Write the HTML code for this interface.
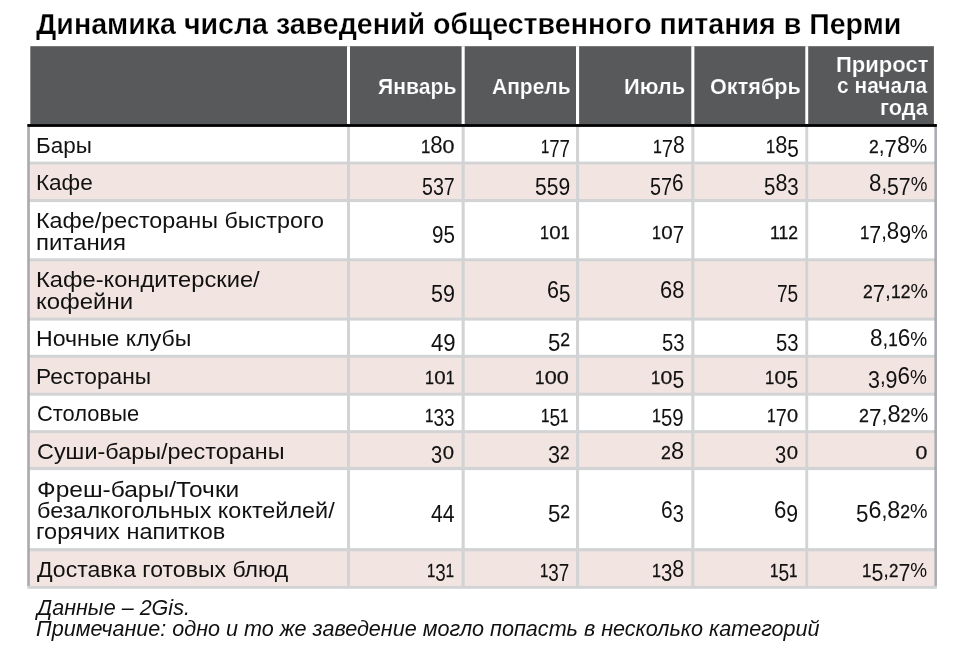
<!DOCTYPE html>
<html lang="ru"><head><meta charset="utf-8"><title>Динамика числа заведений общественного питания в Перми</title>
<style>
html,body{margin:0;padding:0;background:#fff}
body{width:962px;height:652px;position:relative;overflow:hidden;font-family:"Liberation Sans",sans-serif;color:#111}
.grid{position:absolute;left:0;top:0}
.t{position:absolute;display:block;white-space:nowrap;line-height:1;margin:0;transform-origin:0 0}
p{margin:0}
.ttl{font-weight:bold;color:#000;-webkit-text-stroke:.25px #fff}
.hd{font-weight:bold;color:#fff;-webkit-text-stroke:.2px #58595b}
.ft{font-style:italic}
.nm span{line-height:0}
.x{font-size:.83em;-webkit-text-stroke:.3px #111}
.z{font-size:.8em;display:inline-block;transform:scaleX(1.32);margin:0 .1em;-webkit-text-stroke:.25px #111}
.a{font-size:1.1em}
.p{font-size:.93em}
.d{font-size:1.05em;position:relative;top:.18em}

</style></head><body>
<svg class="grid" width="962" height="652" viewBox="0 0 962 652">
<rect x="30.30" y="46.20" width="903.60" height="77.90" fill="#58595b"/>
<rect x="347.00" y="46.20" width="3.00" height="77.90" fill="#ffffff"/>
<rect x="461.60" y="46.20" width="3.10" height="77.90" fill="#ffffff"/>
<rect x="576.00" y="46.20" width="3.10" height="77.90" fill="#ffffff"/>
<rect x="691.30" y="46.20" width="3.10" height="77.90" fill="#ffffff"/>
<rect x="805.30" y="46.20" width="2.90" height="77.90" fill="#ffffff"/>
<rect x="27.30" y="126.90" width="909.60" height="461.90" fill="#d1d3d5"/>
<rect x="27.30" y="126.90" width="2.60" height="459.00" fill="#a9abae"/>
<rect x="934.30" y="126.90" width="2.60" height="459.00" fill="#a9abae"/>
<rect x="29.90" y="126.90" width="317.10" height="34.70" fill="#ffffff"/>
<rect x="350.00" y="126.90" width="111.60" height="34.70" fill="#ffffff"/>
<rect x="464.70" y="126.90" width="111.30" height="34.70" fill="#ffffff"/>
<rect x="579.10" y="126.90" width="112.20" height="34.70" fill="#ffffff"/>
<rect x="694.40" y="126.90" width="110.90" height="34.70" fill="#ffffff"/>
<rect x="808.20" y="126.90" width="126.10" height="34.70" fill="#ffffff"/>
<rect x="29.90" y="164.40" width="317.10" height="34.60" fill="#f2e4e1"/>
<rect x="350.00" y="164.40" width="111.60" height="34.60" fill="#f2e4e1"/>
<rect x="464.70" y="164.40" width="111.30" height="34.60" fill="#f2e4e1"/>
<rect x="579.10" y="164.40" width="112.20" height="34.60" fill="#f2e4e1"/>
<rect x="694.40" y="164.40" width="110.90" height="34.60" fill="#f2e4e1"/>
<rect x="808.20" y="164.40" width="126.10" height="34.60" fill="#f2e4e1"/>
<rect x="29.90" y="202.10" width="317.10" height="56.20" fill="#ffffff"/>
<rect x="350.00" y="202.10" width="111.60" height="56.20" fill="#ffffff"/>
<rect x="464.70" y="202.10" width="111.30" height="56.20" fill="#ffffff"/>
<rect x="579.10" y="202.10" width="112.20" height="56.20" fill="#ffffff"/>
<rect x="694.40" y="202.10" width="110.90" height="56.20" fill="#ffffff"/>
<rect x="808.20" y="202.10" width="126.10" height="56.20" fill="#ffffff"/>
<rect x="29.90" y="261.20" width="317.10" height="56.40" fill="#f2e4e1"/>
<rect x="350.00" y="261.20" width="111.60" height="56.40" fill="#f2e4e1"/>
<rect x="464.70" y="261.20" width="111.30" height="56.40" fill="#f2e4e1"/>
<rect x="579.10" y="261.20" width="112.20" height="56.40" fill="#f2e4e1"/>
<rect x="694.40" y="261.20" width="110.90" height="56.40" fill="#f2e4e1"/>
<rect x="808.20" y="261.20" width="126.10" height="56.40" fill="#f2e4e1"/>
<rect x="29.90" y="320.60" width="317.10" height="34.20" fill="#ffffff"/>
<rect x="350.00" y="320.60" width="111.60" height="34.20" fill="#ffffff"/>
<rect x="464.70" y="320.60" width="111.30" height="34.20" fill="#ffffff"/>
<rect x="579.10" y="320.60" width="112.20" height="34.20" fill="#ffffff"/>
<rect x="694.40" y="320.60" width="110.90" height="34.20" fill="#ffffff"/>
<rect x="808.20" y="320.60" width="126.10" height="34.20" fill="#ffffff"/>
<rect x="29.90" y="357.80" width="317.10" height="34.90" fill="#f2e4e1"/>
<rect x="350.00" y="357.80" width="111.60" height="34.90" fill="#f2e4e1"/>
<rect x="464.70" y="357.80" width="111.30" height="34.90" fill="#f2e4e1"/>
<rect x="579.10" y="357.80" width="112.20" height="34.90" fill="#f2e4e1"/>
<rect x="694.40" y="357.80" width="110.90" height="34.90" fill="#f2e4e1"/>
<rect x="808.20" y="357.80" width="126.10" height="34.90" fill="#f2e4e1"/>
<rect x="29.90" y="395.70" width="317.10" height="34.50" fill="#ffffff"/>
<rect x="350.00" y="395.70" width="111.60" height="34.50" fill="#ffffff"/>
<rect x="464.70" y="395.70" width="111.30" height="34.50" fill="#ffffff"/>
<rect x="579.10" y="395.70" width="112.20" height="34.50" fill="#ffffff"/>
<rect x="694.40" y="395.70" width="110.90" height="34.50" fill="#ffffff"/>
<rect x="808.20" y="395.70" width="126.10" height="34.50" fill="#ffffff"/>
<rect x="29.90" y="433.10" width="317.10" height="33.80" fill="#f2e4e1"/>
<rect x="350.00" y="433.10" width="111.60" height="33.80" fill="#f2e4e1"/>
<rect x="464.70" y="433.10" width="111.30" height="33.80" fill="#f2e4e1"/>
<rect x="579.10" y="433.10" width="112.20" height="33.80" fill="#f2e4e1"/>
<rect x="694.40" y="433.10" width="110.90" height="33.80" fill="#f2e4e1"/>
<rect x="808.20" y="433.10" width="126.10" height="33.80" fill="#f2e4e1"/>
<rect x="29.90" y="470.10" width="317.10" height="78.00" fill="#ffffff"/>
<rect x="350.00" y="470.10" width="111.60" height="78.00" fill="#ffffff"/>
<rect x="464.70" y="470.10" width="111.30" height="78.00" fill="#ffffff"/>
<rect x="579.10" y="470.10" width="112.20" height="78.00" fill="#ffffff"/>
<rect x="694.40" y="470.10" width="110.90" height="78.00" fill="#ffffff"/>
<rect x="808.20" y="470.10" width="126.10" height="78.00" fill="#ffffff"/>
<rect x="29.90" y="551.30" width="317.10" height="34.60" fill="#f2e4e1"/>
<rect x="350.00" y="551.30" width="111.60" height="34.60" fill="#f2e4e1"/>
<rect x="464.70" y="551.30" width="111.30" height="34.60" fill="#f2e4e1"/>
<rect x="579.10" y="551.30" width="112.20" height="34.60" fill="#f2e4e1"/>
<rect x="694.40" y="551.30" width="110.90" height="34.60" fill="#f2e4e1"/>
<rect x="808.20" y="551.30" width="126.10" height="34.60" fill="#f2e4e1"/>
<rect x="27.30" y="124.05" width="909.60" height="2.85" fill="#000000"/>
</svg>
<h1 class="t ttl" style="font-size:28.6px;left:36.20px;top:10.10px;transform:scaleX(0.9991)">Динамика числа заведений общественного питания в Перми</h1>
<div role="table" aria-label="Динамика числа заведений">
<div role="row" class="head">
<div role="columnheader"></div>
<div role="columnheader"><span class="t hd" style="font-size:22.5px;left:378.26px;top:76.00px;transform:scaleX(0.9407)">Январь</span></div>
<div role="columnheader"><span class="t hd" style="font-size:22.5px;left:492.07px;top:76.00px;transform:scaleX(0.9329)">Апрель</span></div>
<div role="columnheader"><span class="t hd" style="font-size:22.5px;left:624.06px;top:76.00px;transform:scaleX(0.9700)">Июль</span></div>
<div role="columnheader"><span class="t hd" style="font-size:22.5px;left:709.54px;top:76.00px;transform:scaleX(0.9620)">Октябрь</span></div>
<div role="columnheader"><span class="t hd" style="font-size:22.5px;left:835.94px;top:53.90px;transform:scaleX(0.9783)">Прирост</span> <span class="t hd" style="font-size:22.5px;left:837.27px;top:75.20px;transform:scaleX(0.9323)">с начала</span> <span class="t hd" style="font-size:22.5px;left:880.26px;top:97.40px;transform:scaleX(0.9681)">года</span></div>
</div>
<div role="row">
<div role="rowheader"><span class="t lb" style="font-size:22.6px;left:35.91px;top:134.60px;transform:scaleX(0.9943)">Бары</span></div>
<div role="cell"><span class="t nm" style="font-size:22px;left:420.68px;top:135.15px;transform:scaleX(0.9200)"><span class="x">1</span><span class="a">8</span><span class="z">0</span></span></div>
<div role="cell"><span class="t nm" style="font-size:22px;left:540.69px;top:135.15px;transform:scaleX(0.8059)"><span class="x">1</span><span class="d">7</span><span class="d">7</span></span></div>
<div role="cell"><span class="t nm" style="font-size:22px;left:652.63px;top:135.15px;transform:scaleX(0.8706)"><span class="x">1</span><span class="d">7</span><span class="a">8</span></span></div>
<div role="cell"><span class="t nm" style="font-size:22px;left:765.90px;top:135.15px;transform:scaleX(0.9000)"><span class="x">1</span><span class="a">8</span><span class="d">5</span></span></div>
<div role="cell"><span class="t nm" style="font-size:22px;left:869.34px;top:135.15px;transform:scaleX(0.9576)"><span class="x">2</span>,<span class="d">7</span><span class="a">8</span><span class="p">%</span></span></div>
</div>
<div role="row">
<div role="rowheader"><span class="t lb" style="font-size:22.6px;left:35.90px;top:171.80px;transform:scaleX(1.0000)">Кафе</span></div>
<div role="cell"><span class="t nm" style="font-size:22px;left:422.35px;top:172.50px;transform:scaleX(0.8500)"><span class="d">5</span><span class="d">3</span><span class="d">7</span></span></div>
<div role="cell"><span class="t nm" style="font-size:22px;left:535.19px;top:172.50px;transform:scaleX(0.9111)"><span class="d">5</span><span class="d">5</span><span class="d">9</span></span></div>
<div role="cell"><span class="t nm" style="font-size:22px;left:650.44px;top:172.50px;transform:scaleX(0.8595)"><span class="d">5</span><span class="d">7</span><span class="a">6</span></span></div>
<div role="cell"><span class="t nm" style="font-size:22px;left:763.71px;top:172.50px;transform:scaleX(0.8865)"><span class="d">5</span><span class="a">8</span><span class="d">3</span></span></div>
<div role="cell"><span class="t nm" style="font-size:22px;left:868.78px;top:172.50px;transform:scaleX(0.9210)"><span class="a">8</span>,<span class="d">5</span><span class="d">7</span><span class="p">%</span></span></div>
</div>
<div role="row">
<div role="rowheader"><span class="t lb" style="font-size:22.6px;left:35.83px;top:210.00px;transform:scaleX(1.0333)">Кафе/рестораны быстрого</span> <span class="t lb" style="font-size:22.6px;left:35.78px;top:231.60px;transform:scaleX(1.0605)">питания</span></div>
<div role="cell"><span class="t nm" style="font-size:22px;left:431.51px;top:221.00px;transform:scaleX(0.8917)"><span class="d">9</span><span class="d">5</span></span></div>
<div role="cell"><span class="t nm" style="font-size:22px;left:539.82px;top:221.00px;transform:scaleX(0.8813)"><span class="x">1</span><span class="z">0</span><span class="x">1</span></span></div>
<div role="cell"><span class="t nm" style="font-size:22px;left:652.22px;top:221.00px;transform:scaleX(0.8824)"><span class="x">1</span><span class="z">0</span><span class="d">7</span></span></div>
<div role="cell"><span class="t nm" style="font-size:22px;left:770.44px;top:221.00px;transform:scaleX(0.9630)"><span class="x">1</span><span class="x">1</span><span class="x">2</span></span></div>
<div role="cell"><span class="t nm" style="font-size:22px;left:859.58px;top:221.00px;transform:scaleX(0.9208)"><span class="x">1</span><span class="d">7</span>,<span class="a">8</span><span class="d">9</span><span class="p">%</span></span></div>
</div>
<div role="row">
<div role="rowheader"><span class="t lb" style="font-size:22.6px;left:35.80px;top:269.20px;transform:scaleX(1.0488)">Кафе-кондитерские/</span> <span class="t lb" style="font-size:22.6px;left:35.78px;top:290.70px;transform:scaleX(1.0602)">кофейни</span></div>
<div role="cell"><span class="t nm" style="font-size:22px;left:431.47px;top:280.20px;transform:scaleX(0.9304)"><span class="d">5</span><span class="d">9</span></span></div>
<div role="cell"><span class="t nm" style="font-size:22px;left:546.61px;top:280.20px;transform:scaleX(0.8917)"><span class="a">6</span><span class="d">5</span></span></div>
<div role="cell"><span class="t nm" style="font-size:22px;left:659.60px;top:280.20px;transform:scaleX(0.9040)"><span class="a">6</span><span class="a">8</span></span></div>
<div role="cell"><span class="t nm" style="font-size:22px;left:776.77px;top:280.20px;transform:scaleX(0.8250)"><span class="d">7</span><span class="d">5</span></span></div>
<div role="cell"><span class="t nm" style="font-size:22px;left:862.54px;top:280.20px;transform:scaleX(0.9591)"><span class="x">2</span><span class="d">7</span>,<span class="x">1</span><span class="x">2</span><span class="p">%</span></span></div>
</div>
<div role="row">
<div role="rowheader"><span class="t lb" style="font-size:22.6px;left:35.85px;top:328.40px;transform:scaleX(1.0236)">Ночные клубы</span></div>
<div role="cell"><span class="t nm" style="font-size:22px;left:430.84px;top:328.35px;transform:scaleX(0.9565)"><span class="d">4</span><span class="d">9</span></span></div>
<div role="cell"><span class="t nm" style="font-size:22px;left:547.74px;top:328.35px;transform:scaleX(0.9619)"><span class="d">5</span><span class="x">2</span></span></div>
<div role="cell"><span class="t nm" style="font-size:22px;left:662.02px;top:328.35px;transform:scaleX(0.8783)"><span class="d">5</span><span class="d">3</span></span></div>
<div role="cell"><span class="t nm" style="font-size:22px;left:776.32px;top:328.35px;transform:scaleX(0.8783)"><span class="d">5</span><span class="d">3</span></span></div>
<div role="cell"><span class="t nm" style="font-size:22px;left:869.97px;top:328.35px;transform:scaleX(0.9317)"><span class="a">8</span>,<span class="x">1</span><span class="a">6</span><span class="p">%</span></span></div>
</div>
<div role="row">
<div role="rowheader"><span class="t lb" style="font-size:22.6px;left:35.89px;top:366.00px;transform:scaleX(1.0054)">Рестораны</span></div>
<div role="cell"><span class="t nm" style="font-size:22px;left:424.72px;top:365.95px;transform:scaleX(0.8812)"><span class="x">1</span><span class="z">0</span><span class="x">1</span></span></div>
<div role="cell"><span class="t nm" style="font-size:22px;left:535.37px;top:365.95px;transform:scaleX(0.9314)"><span class="x">1</span><span class="z">0</span><span class="z">0</span></span></div>
<div role="cell"><span class="t nm" style="font-size:22px;left:651.19px;top:365.95px;transform:scaleX(0.9118)"><span class="x">1</span><span class="z">0</span><span class="d">5</span></span></div>
<div role="cell"><span class="t nm" style="font-size:22px;left:765.49px;top:365.95px;transform:scaleX(0.9118)"><span class="x">1</span><span class="z">0</span><span class="d">5</span></span></div>
<div role="cell"><span class="t nm" style="font-size:22px;left:868.37px;top:365.95px;transform:scaleX(0.9274)"><span class="d">3</span>,<span class="d">9</span><span class="a">6</span><span class="p">%</span></span></div>
</div>
<div role="row">
<div role="rowheader"><span class="t lb" style="font-size:22.6px;left:36.93px;top:403.40px;transform:scaleX(0.9699)">Столовые</span></div>
<div role="cell"><span class="t nm" style="font-size:22px;left:424.77px;top:403.75px;transform:scaleX(0.8294)"><span class="x">1</span><span class="d">3</span><span class="d">3</span></span></div>
<div role="cell"><span class="t nm" style="font-size:22px;left:541.47px;top:403.75px;transform:scaleX(0.8313)"><span class="x">1</span><span class="d">5</span><span class="x">1</span></span></div>
<div role="cell"><span class="t nm" style="font-size:22px;left:652.22px;top:403.75px;transform:scaleX(0.8824)"><span class="x">1</span><span class="d">5</span><span class="d">9</span></span></div>
<div role="cell"><span class="t nm" style="font-size:22px;left:766.54px;top:403.75px;transform:scaleX(0.8571)"><span class="x">1</span><span class="d">7</span><span class="z">0</span></span></div>
<div role="cell"><span class="t nm" style="font-size:22px;left:858.52px;top:403.75px;transform:scaleX(0.9754)"><span class="x">2</span><span class="d">7</span>,<span class="a">8</span><span class="x">2</span><span class="p">%</span></span></div>
</div>
<div role="row">
<div role="rowheader"><span class="t lb" style="font-size:22.6px;left:36.86px;top:440.50px;transform:scaleX(1.0364)">Суши-бары/рестораны</span></div>
<div role="cell"><span class="t nm" style="font-size:22px;left:431.13px;top:440.80px;transform:scaleX(0.8720)"><span class="d">3</span><span class="z">0</span></span></div>
<div role="cell"><span class="t nm" style="font-size:22px;left:548.37px;top:440.80px;transform:scaleX(0.9333)"><span class="d">3</span><span class="x">2</span></span></div>
<div role="cell"><span class="t nm" style="font-size:22px;left:660.73px;top:440.80px;transform:scaleX(0.9727)"><span class="x">2</span><span class="a">8</span></span></div>
<div role="cell"><span class="t nm" style="font-size:22px;left:774.73px;top:440.80px;transform:scaleX(0.8720)"><span class="d">3</span><span class="z">0</span></span></div>
<div role="cell"><span class="t nm" style="font-size:22px;left:914.88px;top:440.80px;transform:scaleX(0.9167)"><span class="z">0</span></span></div>
</div>
<div role="row">
<div role="rowheader"><span class="t lb" style="font-size:22.6px;left:36.81px;top:478.60px;transform:scaleX(1.0853)">Фреш-бары/Точки</span> <span class="t lb" style="font-size:22.6px;left:36.86px;top:499.60px;transform:scaleX(1.0357)">безалкогольных коктейлей/</span> <span class="t lb" style="font-size:22.6px;left:35.82px;top:521.20px;transform:scaleX(1.0413)">горячих напитков</span></div>
<div role="cell"><span class="t nm" style="font-size:22px;left:430.88px;top:499.90px;transform:scaleX(0.9167)"><span class="d">4</span><span class="d">4</span></span></div>
<div role="cell"><span class="t nm" style="font-size:22px;left:547.74px;top:499.90px;transform:scaleX(0.9619)"><span class="d">5</span><span class="x">2</span></span></div>
<div role="cell"><span class="t nm" style="font-size:22px;left:661.43px;top:499.90px;transform:scaleX(0.8667)"><span class="a">6</span><span class="d">3</span></span></div>
<div role="cell"><span class="t nm" style="font-size:22px;left:774.48px;top:499.90px;transform:scaleX(0.9167)"><span class="a">6</span><span class="d">9</span></span></div>
<div role="cell"><span class="t nm" style="font-size:22px;left:856.33px;top:499.90px;transform:scaleX(0.9653)"><span class="d">5</span><span class="a">6</span>,<span class="a">8</span><span class="x">2</span><span class="p">%</span></span></div>
</div>
<div role="row">
<div role="rowheader"><span class="t lb" style="font-size:22.6px;left:36.60px;top:558.60px;transform:scaleX(1.0199)">Доставка готовых блюд</span></div>
<div role="cell"><span class="t nm" style="font-size:22px;left:426.99px;top:559.25px;transform:scaleX(0.8125)"><span class="x">1</span><span class="d">3</span><span class="x">1</span></span></div>
<div role="cell"><span class="t nm" style="font-size:22px;left:540.28px;top:559.25px;transform:scaleX(0.8176)"><span class="x">1</span><span class="d">3</span><span class="d">7</span></span></div>
<div role="cell"><span class="t nm" style="font-size:22px;left:652.22px;top:559.25px;transform:scaleX(0.8824)"><span class="x">1</span><span class="d">3</span><span class="a">8</span></span></div>
<div role="cell"><span class="t nm" style="font-size:22px;left:769.97px;top:559.25px;transform:scaleX(0.8313)"><span class="x">1</span><span class="d">5</span><span class="x">1</span></span></div>
<div role="cell"><span class="t nm" style="font-size:22px;left:861.97px;top:559.25px;transform:scaleX(0.9261)"><span class="x">1</span><span class="d">5</span>,<span class="x">2</span><span class="d">7</span><span class="p">%</span></span></div>
</div>
</div>
<p class="foot"><span class="t ft" style="font-size:21.2px;left:36.83px;top:596.60px;transform:scaleX(1.0167)">Данные – 2Gis.</span> <span class="t ft" style="font-size:21.2px;left:36.48px;top:617.80px;transform:scaleX(1.0184)">Примечание: одно и то же заведение могло попасть в несколько категорий</span></p>
</body></html>
